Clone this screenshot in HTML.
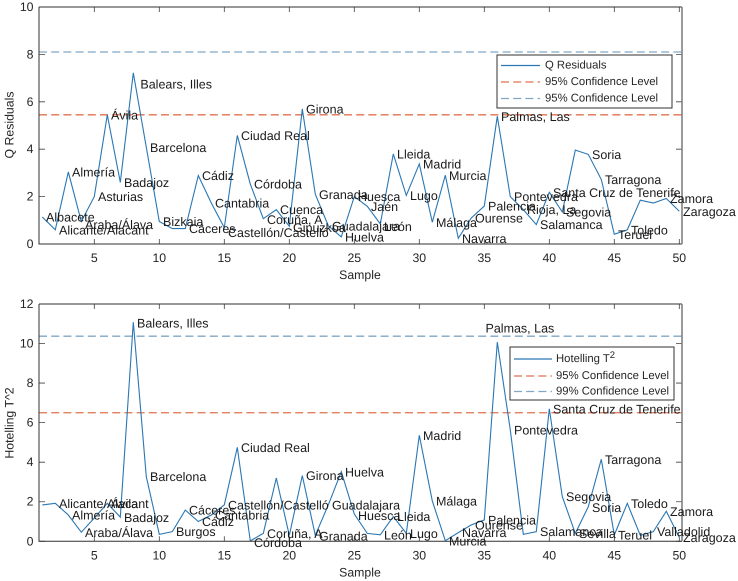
<!DOCTYPE html>
<html lang="es">
<head>
<meta charset="utf-8">
<title>Q Residuals and Hotelling T^2 by sample</title>
<style>
html,body{margin:0;padding:0;background:#fff;}
svg{display:block;font-family:"Liberation Sans",Arial,sans-serif;fill:#262626;text-rendering:geometricPrecision;}
</style>
</head>
<body>
<svg id="chart" width="738" height="581" viewBox="0 0 738 581" xmlns="http://www.w3.org/2000/svg"></svg>
<script>
const provinces = ["Albacete","Alicante/Alacant","Almería","Araba/Álava","Asturias","Ávila","Badajoz","Balears, Illes","Barcelona","Bizkaia","Burgos","Cáceres","Cádiz","Cantabria","Castellón/Castelló","Ciudad Real","Córdoba","Coruña, A","Cuenca","Gipuzkoa","Girona","Granada","Guadalajara","Huelva","Huesca","Jaén","León","Lleida","Lugo","Madrid","Málaga","Murcia","Navarra","Ourense","Palencia","Palmas, Las","Pontevedra","Rioja, La","Salamanca","Santa Cruz de Tenerife","Segovia","Sevilla","Soria","Tarragona","Teruel","Toledo","Valencia/València","Valladolid","Zamora","Zaragoza"];
const qValues = [1.14,0.6,3.04,0.95,2.0,5.45,2.6,7.22,4.08,0.95,0.65,0.65,2.89,1.73,0.69,4.58,2.53,1.07,1.45,0.75,5.7,2.1,0.77,0.3,2.0,1.59,0.85,3.8,2.05,3.38,0.92,2.9,0.24,1.1,1.6,5.39,2.0,1.45,0.82,2.18,1.35,3.96,3.78,2.72,0.41,0.6,1.85,1.73,1.92,1.38];
const t2Values = [1.84,1.92,1.33,0.46,1.18,1.92,1.22,11.08,3.27,0.35,0.49,1.58,1.0,1.33,1.84,4.75,0.02,0.4,3.2,0.3,3.32,0.3,1.84,3.52,1.38,0.4,0.33,1.25,0.4,5.36,2.04,0.03,0.44,0.83,1.08,10.07,5.63,0.35,0.49,6.7,2.26,0.4,1.75,4.15,0.32,1.92,0.3,0.49,1.52,0.2];
const qHidden = ["Burgos","Sevilla","Valencia/València","Valladolid"];
const t2Hidden = ["Albacete","Asturias","Bizkaia","Cuenca","Gipuzkoa","Jaén","Rioja, La","Valencia/València"];
const qLabelValues = {"Araba/Álava":0.82,"Balears, Illes":6.76,"Castellón/Castelló":0.49,"Coruña, A":1.03,"Gipuzkoa":0.7,"León":0.75};
const t2LabelValues = {"Balears, Illes":11.03,"Palmas, Las":10.8,"Granada":0.27,"Córdoba":-0.05,"Huesca":1.3,"Murcia":0.03,"Soria":1.72};
const qLimits = [5.45,8.1];
const t2Limits = [6.5,10.37];
const xTicks = [5,10,15,20,25,30,35,40,45,50];
const qTicks = [0,2,4,6,8,10];
const t2Ticks = [0,2,4,6,8,10,12];
const qLegend = ["Q Residuals","95% Confidence Level","95% Confidence Level"];
const t2Legend = ["Hotelling T","95% Confidence Level","99% Confidence Level"];

const NS = "http://www.w3.org/2000/svg";
const root = document.getElementById("chart");
const BLUE = "#2a77b4", RED = "#e0714f", PALE = "#7fa8c6";

function node(parent, tag, attrs, text){
  const el = document.createElementNS(NS, tag);
  for (const k in attrs) el.setAttribute(k, attrs[k]);
  if (text !== undefined) el.textContent = text;
  parent.appendChild(el);
  return el;
}

function drawPanel(cfg){
  const g = node(root, "g", {});
  
  
  const L = 39, R = 682;
  const xScale = v => 94.3 + (v - 5) * 13;
  const yScale = v => cfg.y0 - v * cfg.unit;
  const top = yScale(cfg.yMax), bottom = cfg.y0;

  for (const t of xTicks){
    const x = xScale(t);
    const tk = node(g, "path", {d:`M${x} ${bottom}V${bottom-5}M${x} ${top}V${top+5}`, stroke:"#404040", "stroke-width":0.8, fill:"none"});
    
    
    const lb = node(g, "text", {x:x, y:bottom+14, "font-size":12.3, "text-anchor":"middle", "dominant-baseline":"central"}, String(t));
    
    
  }
  for (const t of cfg.yTicks){
    const y = yScale(t);
    const tk = node(g, "path", {d:`M${L} ${y}H${L+6}M${R} ${y}H${R-6}`, stroke:"#404040", "stroke-width":0.8, fill:"none"});
    
    
    const lb = node(g, "text", {x:33.5, y:y, "font-size":12.3, "text-anchor":"end", "dominant-baseline":"central"}, String(t));
    
    
  }

  const limitColors = [RED, PALE];
  cfg.limits.forEach((v, i) => {
    const ln = node(g, "line", {x1:L, x2:R, y1:yScale(v), y2:yScale(v), stroke:limitColors[i], "stroke-width":1.3, "stroke-dasharray":"8 4.2"});
    
    
  });

  const pts = cfg.values.map((v, i) => xScale(i + 1).toFixed(2) + "," + yScale(v).toFixed(2)).join(" ");
  const series = node(g, "polyline", {points:pts, fill:"none", stroke:BLUE, "stroke-width":1.1, "stroke-linejoin":"miter"});
  
  

  const axTop = node(g, "path", {d:`M${L} ${top}H${R}M${L} ${top}V${bottom}H${R}`, stroke:"#303030", "stroke-width":1, fill:"none"});
  
  
  const axRight = node(g, "line", {x1:R, x2:R, y1:top, y2:bottom, stroke:"#808080", "stroke-width":1.6});
  
  

  provinces.forEach((name, i) => {
    if (cfg.hidden.includes(name)) return;
    let v = cfg.values[i];
    if (name in cfg.labelValues) v = cfg.labelValues[name];
    let x = xScale(i + 1) + 3.7;
    if (cfg.id === 'hotelling' && name === 'Palmas, Las') x -= 15.5;
    if (cfg.id === 'q-residuals' && name === 'Balears, Illes') x += 3.4;
    const lb = node(g, "text", {x:x, y:yScale(v) + 0.6, "font-size":12.5, "dominant-baseline":"central", fill:"#1a1a1a"}, name);
    
    
  });

  const lg = node(g, "g", {});
  
  
  const box = cfg.legendBox;
  const bg = node(lg, "rect", {x:box[0], y:box[1], width:box[2]-box[0], height:box[3]-box[1], fill:"#fff", stroke:"#303030", "stroke-width":1});
  
  
  const sampleColors = [BLUE, RED, PALE];
  cfg.legend.forEach((txt, i) => {
    const y = cfg.legendRows[i];
    const attrs = {x1:cfg.legendLine[0], x2:cfg.legendLine[1], y1:y, y2:y, stroke:sampleColors[i], "stroke-width":1.2};
    if (i > 0) attrs["stroke-dasharray"] = "8 4.2";
    const s = node(lg, "line", attrs);
    
    
    const t = node(lg, "text", {x:cfg.legendLine[1] + cfg.legendGap, y:y, "font-size":11.3, "dominant-baseline":"central"}, txt);
    
    
    if (i === 0 && cfg.id === 'hotelling'){
      const sup = node(t, "tspan", {dy:-4, "font-size":9.5}, "2");
      
      
    }
  });

  const xt = node(g, "text", {x:360, y:bottom+31, "font-size":12.3, "text-anchor":"middle", "dominant-baseline":"central"}, "Sample");
  
  
  const yt = node(g, "text", {x:0, y:0, transform:`translate(9.5 ${cfg.yTitleY}) rotate(-90)`, "font-size":12.3, "text-anchor":"middle", "dominant-baseline":"central"}, cfg.yTitle);
  
  
}

drawPanel({id:'q-residuals', values:qValues, limits:qLimits, hidden:qHidden, labelValues:qLabelValues,
  y0:244, unit:23.7, yMax:10, yTicks:qTicks, yTitle:"Q Residuals", yTitleY:125,
  legend:qLegend, legendBox:[497,55,672,108], legendRows:[65.5,82,98.5], legendLine:[501,540], legendGap:5});
drawPanel({id:'hotelling', values:t2Values, limits:t2Limits, hidden:t2Hidden, labelValues:t2LabelValues,
  y0:541.3, unit:19.78, yMax:12, yTicks:t2Ticks, yTitle:"Hotelling T^2", yTitleY:423,
  legend:t2Legend, legendBox:[510,347,674,400], legendRows:[359,376,391.5], legendLine:[514,552], legendGap:4});
</script>
</body>
</html>
